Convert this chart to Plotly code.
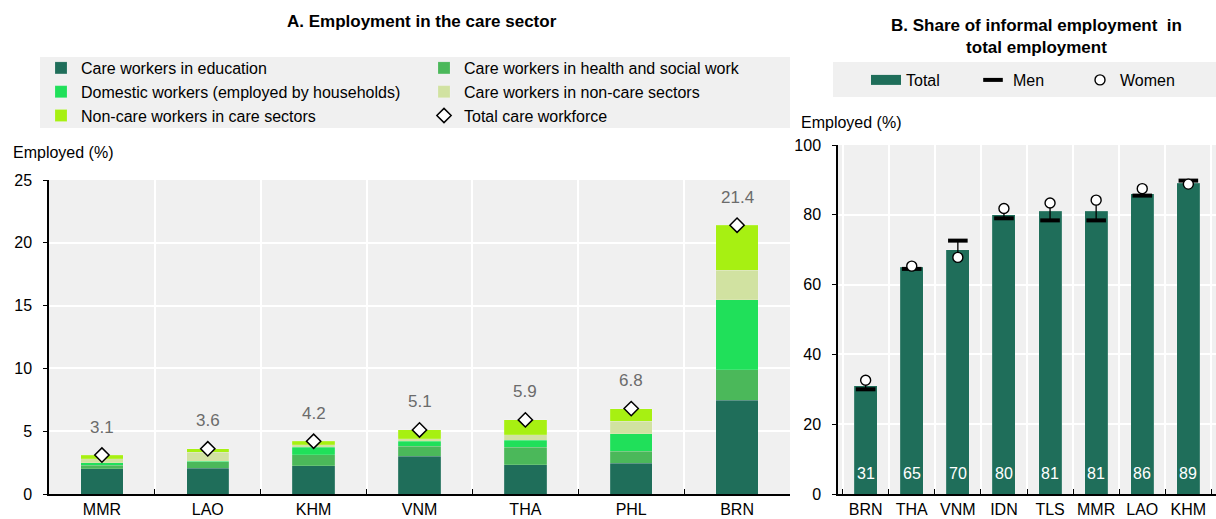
import plotly.graph_objects as go

# ---------------- Panel A: employment in the care sector (% of employed) ----------------
countries_a = ["MMR", "LAO", "KHM", "VNM", "THA", "PHL", "BRN"]
care_education = [2.00, 2.07, 2.26, 3.00, 2.34, 2.46, 7.48]
care_health_social = [0.29, 0.48, 0.85, 0.80, 1.38, 0.95, 2.43]
domestic_workers = [0.18, 0.05, 0.61, 0.40, 0.56, 1.37, 5.57]
care_in_noncare_sectors = [0.35, 0.72, 0.22, 0.21, 0.45, 1.01, 2.33]
noncare_in_care_sectors = [0.28, 0.28, 0.26, 0.69, 1.17, 1.01, 3.59]
total_care_workforce = [3.1, 3.6, 4.2, 5.1, 5.9, 6.8, 21.4]

# ---------------- Panel B: informal employment share (% of total employment) ----------------
countries_b = ["BRN", "THA", "VNM", "IDN", "TLS", "MMR", "LAO", "KHM"]
informal_total = [31, 65, 70, 80, 81, 81, 86, 89]
informal_men = [30.0, 64.5, 72.6, 79.0, 78.4, 78.4, 85.5, 89.8]
informal_women = [32.6, 65.3, 67.8, 81.8, 83.4, 84.2, 87.5, 88.8]

FONT = "Liberation Sans, Arial, sans-serif"
W, H = 1216, 519
ML, MB = 49, 25
PW, PH = W - ML, H - MB


def px_x(p):
    return (p - ML) / PW


def px_y(p):
    return (H - MB - p) / PH


DARK = "#1f6e5a"
# (name, values, colour, legend column)
stack = [
    ("Care workers in education", care_education, DARK, "legend"),
    ("Care workers in health and social work", care_health_social, "#4bb85a", "legend3"),
    ("Domestic workers (employed by households)", domestic_workers, "#20e05a", "legend"),
    ("Care workers in non-care sectors", care_in_noncare_sectors, "#d1e2a1", "legend3"),
    ("Non-care workers in care sectors", noncare_in_care_sectors, "#a7f012", "legend"),
]

fig = go.Figure()

for name, vals, col, leg in stack:
    fig.add_trace(go.Bar(
        x=countries_a, y=vals, name=name, marker_color=col,
        marker_line=dict(width=0.6, color="rgba(255,255,255,0.25)"),
        width=0.4, xaxis="x", yaxis="y", legend=leg,
    ))

fig.add_trace(go.Scatter(
    x=countries_a, y=total_care_workforce, name="Total care workforce",
    mode="markers", xaxis="x", yaxis="y", legend="legend3",
    marker=dict(symbol="diamond", size=11, color="white",
                line=dict(color="black", width=1.5)),
))

# Panel B bars
fig.add_trace(go.Bar(
    x=countries_b, y=informal_total, name="Total", marker_color=DARK,
    marker_line=dict(width=0.6, color="rgba(255,255,255,0.25)"),
    width=0.5, xaxis="x2", yaxis="y2", showlegend=False,
))

# legend swatch for the Panel B total bars
fig.add_trace(go.Scatter(
    x=[None], y=[None], name="Total", mode="lines",
    line=dict(color=DARK, width=13), xaxis="x2", yaxis="y2", legend="legend2",
))

# connectors between men and women values
cx, cy = [], []
for c, m, w in zip(countries_b, informal_men, informal_women):
    cx += [c, c, None]
    cy += [m, w, None]
fig.add_trace(go.Scatter(
    x=cx, y=cy, mode="lines", line=dict(color="black", width=1.3),
    xaxis="x2", yaxis="y2", showlegend=False, hoverinfo="skip",
))

fig.add_trace(go.Scatter(
    x=countries_b, y=informal_men, name="Men", mode="markers",
    xaxis="x2", yaxis="y2", legend="legend2",
    marker=dict(symbol="line-ew", size=14, color="black",
                line=dict(color="black", width=4)),
))
fig.add_trace(go.Scatter(
    x=countries_b, y=informal_women, name="Women", mode="markers",
    xaxis="x2", yaxis="y2", legend="legend2",
    marker=dict(symbol="circle", size=10, color="white",
                line=dict(color="black", width=1.4)),
))

annotations = []
for c, t in zip(countries_a, total_care_workforce):
    annotations.append(dict(
        x=c, y=t, xref="x", yref="y", text=f"{t:.1f}", showarrow=False,
        yshift=28, font=dict(family=FONT, size=17, color="#6b6b6b"),
    ))
for c, t in zip(countries_b, informal_total):
    annotations.append(dict(
        x=c, y=0, xref="x2", yref="y2", text=f"{t}", showarrow=False,
        yshift=21, font=dict(family=FONT, size=16, color="white"),
    ))

annotations += [
    dict(x=px_x(422), y=px_y(22), xref="paper", yref="paper", showarrow=False,
         xanchor="center", yanchor="middle",
         text="<b>A. Employment in the care sector</b>",
         font=dict(family=FONT, size=17, color="black")),
    dict(x=px_x(1036), y=px_y(36), xref="paper", yref="paper", showarrow=False,
         xanchor="center", yanchor="middle",
         text="<b>B. Share of informal employment  in<br>total employment</b>",
         font=dict(family=FONT, size=17, color="black")),
    dict(x=px_x(11), y=px_y(152), xref="paper", yref="paper", showarrow=False,
         xanchor="left", yanchor="middle", text="Employed (%)",
         font=dict(family=FONT, size=16, color="black")),
    dict(x=px_x(799), y=px_y(122), xref="paper", yref="paper", showarrow=False,
         xanchor="left", yanchor="middle", text="Employed (%)",
         font=dict(family=FONT, size=16, color="black")),
]

shapes = [
    dict(type="rect", xref="paper", yref="paper", layer="below",
         x0=px_x(40), x1=px_x(790), y0=px_y(128), y1=px_y(57),
         fillcolor="#f0f0f0", line=dict(width=0)),
    dict(type="rect", xref="paper", yref="paper", layer="below",
         x0=px_x(833), x1=1.0, y0=px_y(97), y1=px_y(62),
         fillcolor="#f0f0f0", line=dict(width=0)),
]

axis_common = dict(
    showline=True, linecolor="black", linewidth=1.5,
    tickfont=dict(family=FONT, size=16, color="black"),
    zeroline=False,
)
grid = dict(showgrid=True, gridcolor="white", gridwidth=2)

legend_common = dict(
    xref="container", yref="container", xanchor="left", yanchor="top",
    bgcolor="rgba(0,0,0,0)", font=dict(family=FONT, size=16, color="black"),
    traceorder="normal", itemclick=False, itemdoubleclick=False,
)

fig.update_layout(
    width=W, height=H, barmode="stack",
    margin=dict(l=ML, r=0, t=0, b=MB, autoexpand=False),
    paper_bgcolor="white", plot_bgcolor="#f0f0f0",
    font=dict(family=FONT, size=16, color="black"),
    xaxis=dict(domain=[0, px_x(790)], anchor="y", type="category",
               tickson="boundaries", ticks="inside", ticklen=5, tickcolor="black",
               tickangle=0, **grid, **axis_common),
    yaxis=dict(domain=[0, px_y(180)], anchor="x", range=[0, 25], dtick=5,
               ticks="outside", ticklen=4, tickcolor="black", ticklabelstandoff=8,
               **grid, **axis_common),
    xaxis2=dict(domain=[px_x(838), 1], anchor="y2", type="category",
                tickson="boundaries", ticks="inside", ticklen=5, tickcolor="black",
                tickangle=0, **grid, **axis_common),
    yaxis2=dict(domain=[0, px_y(145)], anchor="x2", range=[0, 100], dtick=20,
                ticks="outside", ticklen=4, tickcolor="black", ticklabelstandoff=8,
                **grid, **axis_common),
    legend=dict(orientation="v", x=41 / W, y=1 - 51 / H, **legend_common),
    legend3=dict(orientation="v", x=424 / W, y=1 - 51 / H, **legend_common),
    legend2=dict(orientation="h", x=866 / W, y=1 - 63 / H,
                 entrywidth=62, entrywidthmode="pixels", **legend_common),
    annotations=annotations,
    shapes=shapes,
    showlegend=True,
)

fig.write_html("out.html")
